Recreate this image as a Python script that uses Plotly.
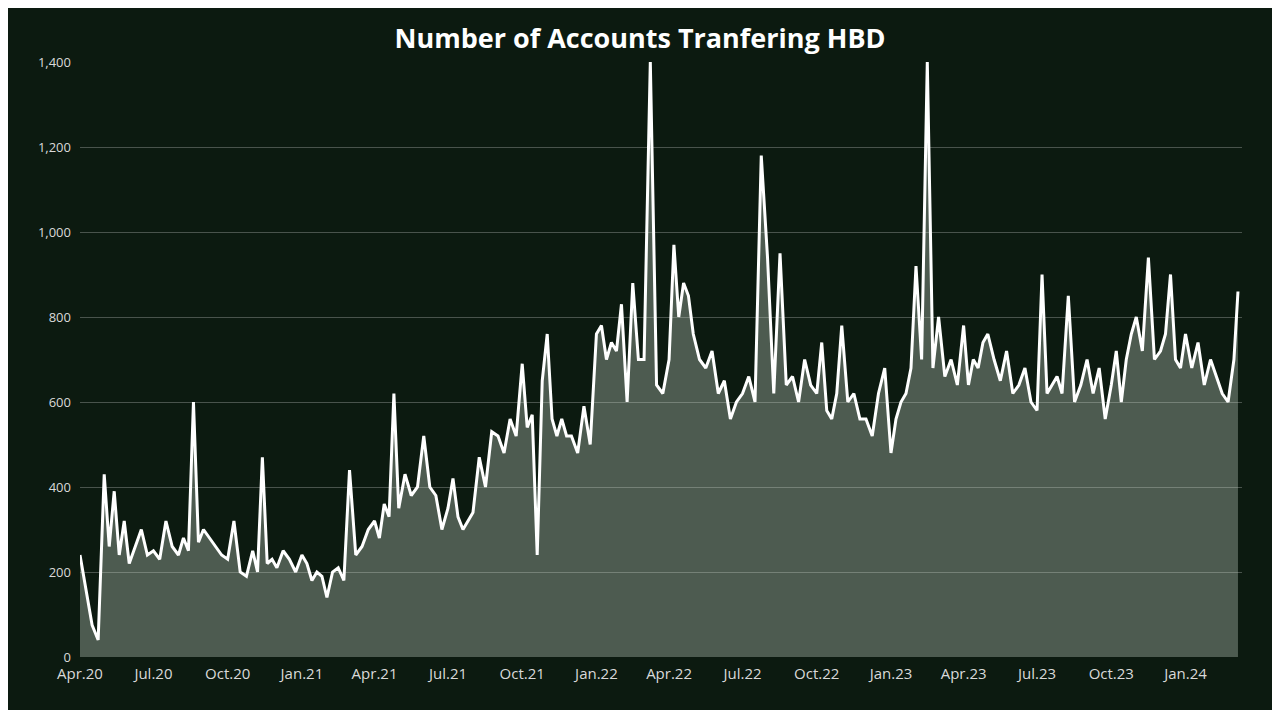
import plotly.graph_objects as go
import pandas as pd

months = ["2020-04","2020-05","2020-06","2020-07","2020-08","2020-09","2020-10","2020-11","2020-12",
          "2021-01","2021-02","2021-03","2021-04","2021-05","2021-06","2021-07","2021-08","2021-09","2021-10","2021-11","2021-12",
          "2022-01","2022-02","2022-03","2022-04","2022-05","2022-06","2022-07","2022-08","2022-09","2022-10","2022-11","2022-12",
          "2023-01","2023-02","2023-03","2023-04","2023-05","2023-06","2023-07","2023-08","2023-09","2023-10","2023-11","2023-12",
          "2024-01","2024-02","2024-03"]
monthly_values = [
    [240,160,75,40],[430,260,390,240,320],[220,260,300,240],[250,230,320,260],[240,280,250,600,270],
    [300,280,260,240],[230,320,200,190],[250,200,470,220,230],[210,250,230,200],
    [240,220,180,200,190],[140,200,210,180],[440,240,260,300],[320,280,360,330,620],[350,430,380,400],
    [520,400,380,300],[350,420,330,300,320],[340,470,400,530],[520,480,560,520],[690,540,570,240,650],
    [760,560,520,560,520],[520,480,590,500],
    [760,780,700,740,720],[830,600,880,700],[700,1400,640,620],[700,970,800,880,850],[760,700,680,720],
    [620,650,560,600],[620,660,600,1180],[940,620,950,640],[660,600,700,640],[620,740,580,560,620],
    [780,600,620,560],[560,520,620,680],
    [480,560,600,620,680],[920,700,1400,680],[800,660,700,640],[780,640,700,680,740],[760,700,650,720],
    [620,640,680,600],[580,900,620,640,660],[620,850,600,640],[700,620,680,560],[640,720,600,700,760],
    [800,720,940,700],[720,760,900,700,680],
    [760,680,740,640],[700,660,620,600],[700,860],
]
tick_labels = ["Apr.20","Jul.20","Oct.20","Jan.21","Apr.21","Jul.21","Oct.21","Jan.22","Apr.22","Jul.22",
               "Oct.22","Jan.23","Apr.23","Jul.23","Oct.23","Jan.24"]

dates, values = [], []
for m, vals in zip(months, monthly_values):
    start = pd.Timestamp(m + "-01")
    n = len(vals)
    span = 10 if m == "2024-03" else start.days_in_month
    for i, v in enumerate(vals):
        dates.append(start + pd.Timedelta(days=span * i / n))
        values.append(v)

tick_vals = pd.date_range("2020-04-01", periods=len(tick_labels), freq="3MS")

fig = go.Figure(go.Scatter(x=dates, y=values, mode="lines", fill="tozeroy",
                           line=dict(color="white", width=3),
                           fillcolor="rgba(200,215,200,0.35)"))
fig.update_layout(
    width=1264, height=702, paper_bgcolor="#0c1a10", plot_bgcolor="rgba(0,0,0,0)",
    margin=dict(l=72, r=30, t=54, b=53),
    title=dict(text="<b>Number of Accounts Tranfering HBD</b>", x=0.5, y=0.97,
               font=dict(family="Open Sans", size=27, color="white")),
    showlegend=False,
    font=dict(family="Open Sans", color="#d9d9d9"),
)
fig.update_xaxes(range=[pd.Timestamp("2020-04-01"), pd.Timestamp("2024-03-11")],
                 tickvals=tick_vals, ticktext=tick_labels, showgrid=False,
                 tickfont=dict(size=15, color="#d9d9d9"), showline=False, ticklabelstandoff=6)
fig.update_yaxes(range=[0, 1400], tickvals=list(range(0, 1401, 200)), tickformat=",",
                 gridcolor="rgba(255,255,255,0.25)", tickfont=dict(size=13, color="#d9d9d9"),
                 zeroline=False, ticklabelstandoff=8)
fig.write_html("out.html")
